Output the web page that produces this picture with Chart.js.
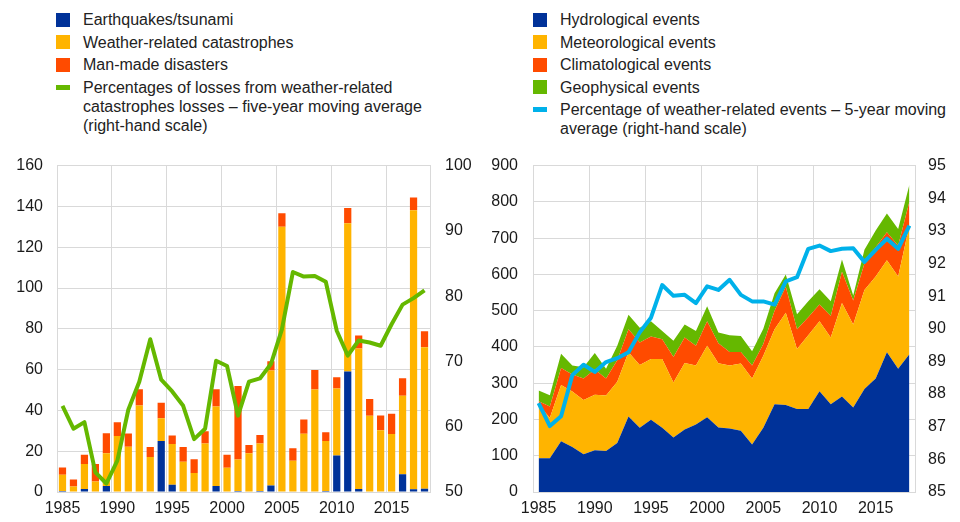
<!DOCTYPE html>
<html>
<head>
<meta charset="utf-8">
<title>Catastrophe losses and natural loss events</title>
<script src="https://cdn.jsdelivr.net/npm/chart.js@4.4.1/dist/chart.umd.min.js"></script>
<style>
    body {
        margin: 0;
        width: 960px;
        height: 522px;
        background: #fff;
        position: relative;
        overflow: hidden;
        font-family: "Liberation Sans", Arial, sans-serif;
        color: #222;
    }
    .legend {
        position: absolute;
        top: 10px;
        font-size: 16px;
        line-height: 19px;
    }
    .legend-item {
        position: relative;
        padding-left: 27px;
        margin-bottom: 3.5px;
        white-space: nowrap;
    }
    .legend-item .box {
        position: absolute;
        left: 0;
        top: 2.5px;
        width: 14px;
        height: 14px;
    }
    .legend-item .dash {
        position: absolute;
        left: 0;
        top: 7px;
        width: 14px;
        height: 5px;
    }
    .chart-box {
        position: absolute;
        top: 141px;
        width: 480px;
        height: 381px;
    }
</style>
</head>
<body>

<div class="legend" style="left: 56px;">
    <div class="legend-item"><span class="box" style="background:#003299"></span>Earthquakes/tsunami</div>
    <div class="legend-item"><span class="box" style="background:#ffb400"></span>Weather-related catastrophes</div>
    <div class="legend-item"><span class="box" style="background:#ff4b00"></span>Man-made disasters</div>
    <div class="legend-item"><span class="dash" style="background:#65b800"></span>Percentages of losses from weather-related<br>catastrophes losses – five-year moving average<br>(right-hand scale)</div>
</div>

<div class="legend" style="left: 533px;">
    <div class="legend-item"><span class="box" style="background:#003299"></span>Hydrological events</div>
    <div class="legend-item"><span class="box" style="background:#ffb400"></span>Meteorological events</div>
    <div class="legend-item"><span class="box" style="background:#ff4b00"></span>Climatological events</div>
    <div class="legend-item"><span class="box" style="background:#65b800"></span>Geophysical events</div>
    <div class="legend-item"><span class="dash" style="background:#00b1ea"></span>Percentage of weather-related events – 5-year moving<br>average (right-hand scale)</div>
</div>

<div class="chart-box" style="left: 0;"><canvas id="lossesChart"></canvas></div>
<div class="chart-box" style="left: 480px;"><canvas id="eventsChart"></canvas></div>

<script>
const years = [];
for (let y = 1985; y <= 2018; y++) years.push(y);

// left panel: insured losses (bars) and share of weather-related losses (line, rhs)
const earthquakes = [0.5, 0, 1.5, 0, 2.9, 0, 0, 0, 0, 25, 3.5, 0, 0, 0, 2.9, 0, 0.5, 0, 0.5, 3.2,
    0, 0, 0.3, 0, 0.5, 17.9, 59.1, 1.5, 0, 0, 0.3, 8.7, 1.3, 1.6];
const weatherRelated = [8, 2.7, 12.2, 5.2, 16.1, 27.4, 22.2, 42.4, 17.1, 11.2, 20, 14.8, 9.3, 23.8, 39, 11.9, 15.4, 19, 23.3, 56.4,
    130, 15.3, 28.3, 50.3, 24.5, 32.8, 72.7, 68.9, 37.4, 30.3, 28.1, 38.5, 136.8, 69.3];
const manMade = [3.5, 3.4, 4.5, 8.5, 9.8, 6.8, 6.5, 8, 5, 7.5, 4.2, 7.3, 6.7, 6, 8.5, 6.3, 36, 4, 4.2, 4.5,
    6.6, 6.1, 7, 9.5, 4.3, 5.5, 7.4, 6.3, 8.2, 7.2, 9.9, 8.5, 6.3, 7.9];
const weatherLossShare = [63.2, 59.7, 60.7, 53.0, 51.3, 54.8, 62.6, 66.9, 73.4, 67.2, 65.4, 63.2, 58.1, 59.7, 70.1, 69.3, 61.7,
    66.9, 67.4, 69.6, 74.9, 83.7, 83.0, 83.1, 82.2, 74.7, 70.9, 73.2, 72.9, 72.4, 75.7, 78.7, 79.7, 80.9];

// right panel: number of loss events (stacked areas) and share of weather-related events (line, rhs)
const hydrological = [93, 93, 140, 124, 104, 115, 113, 135, 208, 177, 199, 177, 150, 172, 186, 206, 178,
    175, 169, 131, 177, 242, 240, 229, 229, 278, 242, 263, 233, 284, 313, 385, 340, 380];
const meteorological = [147, 112, 155, 153, 150, 153, 153, 169, 177, 173, 168, 190, 152, 184, 163, 197, 177,
    174, 185, 182, 199, 207, 254, 165, 203, 193, 184, 258, 229, 273, 281, 254, 254, 355];
const climatological = [10, 31, 47, 47, 59, 70, 47, 59, 64, 62, 62, 54, 70, 70, 54, 68, 55,
    37, 32, 36, 32, 51, 72, 55, 50, 46, 59, 86, 66, 73, 81, 77, 86, 65];
const geophysical = [30, 31, 39, 25, 31, 45, 27, 40, 40, 41, 42, 23, 45, 36, 41, 41, 30,
    46, 44, 39, 42, 48, 34, 41, 44, 42, 41, 34, 14, 38, 46, 52, 45, 47];
const weatherEventShare = [87.72, 87.02, 87.32, 88.58, 88.90, 88.68, 88.98, 89.10, 89.28, 89.89, 90.34, 91.34, 91.01,
    91.04, 90.79, 91.30, 91.19, 91.50, 91.04, 90.84, 90.84, 90.74, 91.45, 91.58, 92.45, 92.55, 92.38, 92.45,
    92.47, 92.05, 92.42, 92.76, 92.45, 93.16];

const gridColor = '#d9d9d9';
const tickColor = '#1a1a1a';

Chart.defaults.font.family = '"Liberation Sans", Arial, sans-serif';
Chart.defaults.font.size = 16;
Chart.defaults.color = tickColor;

function xAxis() {
    return {
        offset: true,
        grid: {
            offset: true,
            drawTicks: false,
            color: ctx => (ctx.index !== undefined && ctx.index % 5 === 0) ? gridColor : 'transparent'
        },
        border: {color: gridColor},
        ticks: {
            autoSkip: false,
            maxRotation: 0,
            padding: 7,
            callback: (value, index) => years[index] % 5 === 0 ? String(years[index]) : ''
        },
        afterFit: scale => { scale.height = 30; }
    };
}

function leftAxis(min, max, step, width, pad) {
    return {
        position: 'left',
        stacked: true,
        min: min,
        max: max,
        grid: {color: gridColor, drawTicks: false},
        border: {color: gridColor},
        ticks: {stepSize: step, padding: pad},
        afterFit: scale => { scale.width = width; }
    };
}

function rightAxis(min, max, step, width, pad) {
    return {
        position: 'right',
        min: min,
        max: max,
        grid: {display: false, drawTicks: false},
        border: {color: gridColor},
        ticks: {stepSize: step, padding: pad},
        afterFit: scale => { scale.width = width; }
    };
}

const commonOptions = {
    responsive: true,
    maintainAspectRatio: false,
    animation: false,
    layout: {padding: {top: 20, bottom: 0, left: 0, right: 0}},
    plugins: {
        legend: {display: false},
        tooltip: {enabled: false}
    }
};

new Chart(document.getElementById('lossesChart').getContext('2d'), {
    type: 'bar',
    data: {
        labels: years,
        datasets: [
            {
                type: 'line',
                label: 'Percentages of losses from weather-related catastrophes losses – five-year moving average (right-hand scale)',
                data: weatherLossShare,
                yAxisID: 'y1',
                borderColor: '#65b800',
                borderWidth: 4,
                borderJoinStyle: 'round',
                pointRadius: 0,
                fill: false,
                order: 0
            },
            {label: 'Earthquakes/tsunami', data: earthquakes, backgroundColor: '#003299', order: 1},
            {label: 'Weather-related catastrophes', data: weatherRelated, backgroundColor: '#ffb400', order: 1},
            {label: 'Man-made disasters', data: manMade, backgroundColor: '#ff4b00', order: 1}
        ]
    },
    options: {
        ...commonOptions,
        datasets: {bar: {categoryPercentage: 1, barPercentage: 0.66}},
        scales: {
            x: {...xAxis(), stacked: true},
            y: leftAxis(0, 160, 20, 57, 14),
            y1: rightAxis(50, 100, 10, 50, 15)
        }
    }
});

new Chart(document.getElementById('eventsChart').getContext('2d'), {
    type: 'line',
    data: {
        labels: years,
        datasets: [
            {label: 'Hydrological events', data: hydrological, backgroundColor: '#003299', fill: 'origin', order: 1},
            {label: 'Meteorological events', data: meteorological, backgroundColor: '#ffb400', fill: '-1', order: 1},
            {label: 'Climatological events', data: climatological, backgroundColor: '#ff4b00', fill: '-1', order: 1},
            {label: 'Geophysical events', data: geophysical, backgroundColor: '#65b800', fill: '-1', order: 1},
            {
                label: 'Percentage of weather-related events – 5-year moving average (right-hand scale)',
                data: weatherEventShare,
                yAxisID: 'y1',
                borderColor: '#00b1ea',
                borderWidth: 4,
                borderJoinStyle: 'round',
                fill: false,
                order: 0
            }
        ]
    },
    options: {
        ...commonOptions,
        elements: {
            point: {radius: 0},
            line: {tension: 0, borderWidth: 0}
        },
        scales: {
            x: xAxis(),
            y: leftAxis(0, 900, 100, 53, 15),
            y1: {...rightAxis(85, 95, 1, 45, 13), stacked: false}
        }
    }
});
</script>
</body>
</html>
